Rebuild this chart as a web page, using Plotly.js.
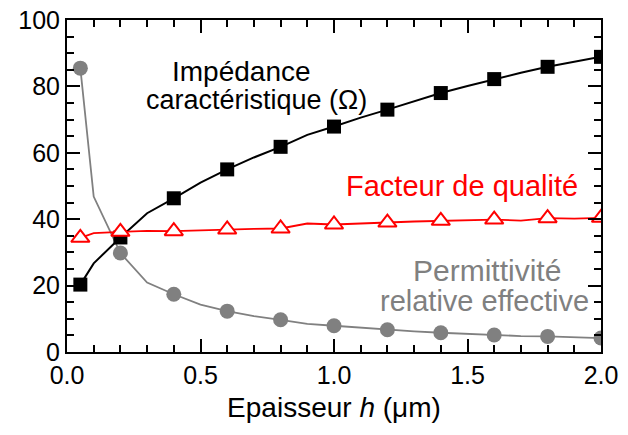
<!DOCTYPE html>
<html>
<head>
<meta charset="utf-8">
<script src="https://cdn.plot.ly/plotly-3.0.1.min.js"></script>
<style>html,body{margin:0;padding:0;background:#fff;}#chart{width:628px;height:435px;}</style>
</head>
<body>
<div id="chart"></div>
<script>
// Thickness h (µm) sampled along the lines
const hLine = [0.05, 0.1, 0.2, 0.3, 0.4, 0.5, 0.6, 0.7, 0.8, 0.9, 1.0, 1.1, 1.2, 1.3, 1.4, 1.5, 1.6, 1.7, 1.8, 1.9, 2.0];
// Characteristic impedance (Ohm)
const impedance = [20.3, 26.7, 34.5, 41.8, 46.3, 51.0, 55.0, 58.6, 61.8, 65.4, 67.9, 70.6, 73.0, 75.6, 78.0, 80.1, 82.2, 84.1, 85.9, 87.5, 88.9];
// Quality factor
const quality = [34.4, 35.8, 36.2, 36.5, 36.4, 36.7, 36.9, 37.1, 37.2, 38.7, 38.4, 38.8, 39.0, 39.3, 39.5, 39.6, 39.9, 39.6, 40.3, 40.2, 40.4];
// Relative effective permittivity
const permittivity = [85.5, 46.8, 29.8, 20.9, 17.4, 14.3, 12.3, 10.8, 9.7, 8.5, 7.9, 7.3, 6.7, 6.2, 5.8, 5.4, 5.1, 4.8, 4.7, 4.4, 4.2];
// Marker positions (every 0.2 plus first point)
const markIdx = [0, 2, 4, 6, 8, 10, 12, 14, 16, 18, 20];

const pick = (arr) => markIdx.map(i => arr[i]);
const font = 'Liberation Sans, Arial, sans-serif';

const traces = [
  {x: hLine, y: permittivity, mode: 'lines', line: {color: '#808080', width: 1.8}},
  {x: pick(hLine), y: pick(permittivity), mode: 'markers', marker: {symbol: 'circle', size: 15, color: '#808080'}},
  {x: hLine, y: impedance, mode: 'lines', line: {color: '#000000', width: 2}},
  {x: pick(hLine), y: pick(impedance), mode: 'markers', marker: {symbol: 'square', size: 14, color: '#000000'}},
  {x: hLine, y: quality, mode: 'lines', line: {color: '#ff0000', width: 1.8}},
  {x: pick(hLine), y: pick(quality), mode: 'markers', marker: {symbol: 'triangle-up', size: 16, color: '#ffffff', line: {color: '#ff0000', width: 2}}}
];

const layout = {
  width: 628, height: 435,
  margin: {l: 67, r: 27, t: 20, b: 83},
  paper_bgcolor: '#fff', plot_bgcolor: '#fff',
  showlegend: false,
  xaxis: {
    showgrid: false, zeroline: false, showline: true, linecolor: '#000', linewidth: 2,
    mirror: 'allticks', ticks: 'inside', tickcolor: '#000', tickwidth: 2, ticklen: 13,
    range: [0, 2.0], tickmode: 'linear', tick0: 0, dtick: 0.5, tickformat: '.1f',
    tickfont: {family: font, size: 25, color: '#000'},
    minor: {dtick: 0.1, ticklen: 7, tickwidth: 2, tickcolor: '#000', ticks: 'inside'},
    title: {text: 'Epaisseur <i>h</i> (μm)', font: {family: font, size: 28, color: '#000'}, standoff: 9}
  },
  yaxis: {
    showgrid: false, zeroline: false, showline: true, linecolor: '#000', linewidth: 2,
    mirror: 'allticks', ticks: 'inside', tickcolor: '#000', tickwidth: 2, ticklen: 13,
    range: [0, 100], tickmode: 'linear', tick0: 0, dtick: 20,
    tickfont: {family: font, size: 25, color: '#000'},
    minor: {dtick: 5, ticklen: 7, tickwidth: 2, tickcolor: '#000', ticks: 'inside'}
  },
  annotations: [
    {x: 0.655, y: 84.5, xref: 'x', yref: 'y', text: 'Impédance', showarrow: false,
     font: {family: font, size: 28, color: '#000'}},
    {x: 0.71, y: 75.8, xref: 'x', yref: 'y', text: 'caractéristique (Ω)', showarrow: false,
     font: {family: font, size: 27, color: '#000'}},
    {x: 1.479, y: 49.9, xref: 'x', yref: 'y', text: 'Facteur de qualité', showarrow: false,
     font: {family: font, size: 29, color: '#ff0000'}},
    {x: 1.573, y: 24.6, xref: 'x', yref: 'y', text: 'Permittivité', showarrow: false,
     font: {family: font, size: 30, color: '#808080'}},
    {x: 1.565, y: 15.4, xref: 'x', yref: 'y', text: 'relative effective', showarrow: false,
     font: {family: font, size: 29, color: '#808080'}}
  ]
};

Plotly.newPlot('chart', traces, layout, {displayModeBar: false});
</script>
</body>
</html>
